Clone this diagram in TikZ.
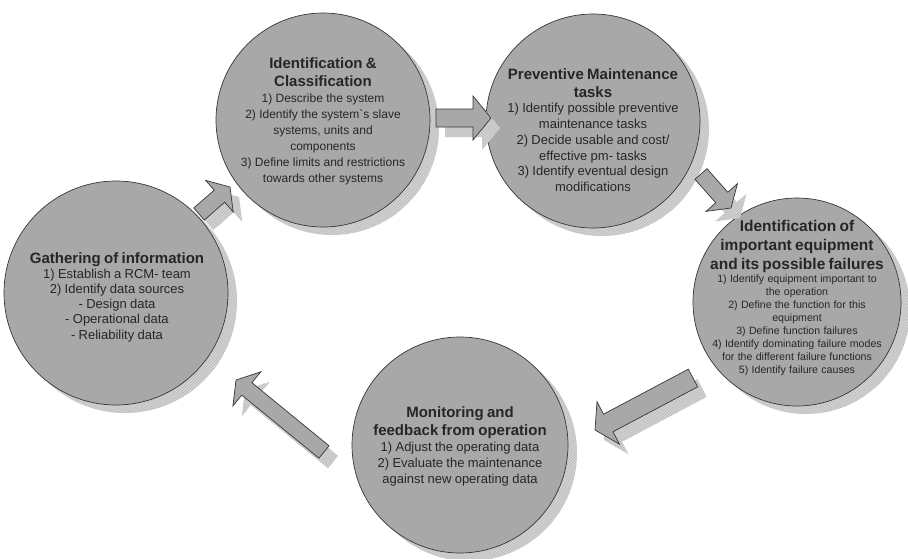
\documentclass[tikz,border=0pt]{standalone}
\usepackage{fontspec}
\setmainfont{Liberation Sans}
\usetikzlibrary{calc,patterns}

\definecolor{discgray}{RGB}{168,168,168}
\definecolor{edgegray}{RGB}{55,55,55}
\definecolor{shadegray}{RGB}{210,210,210}
\definecolor{hatchgray}{RGB}{186,186,186}

\tikzset{
  disc/.style={circle, fill=discgray, draw=edgegray, line width=0.7pt, inner sep=0pt},
  discshade/.style={fill=shadegray, postaction={pattern=north east lines, pattern color=hatchgray}},
  arrowbody/.style={fill=discgray, draw=edgegray, line width=0.7pt, line join=miter},
  stagetext/.style={text width=250pt, align=center, inner sep=0pt, text=black!85},
}

% block arrow: #1 style, #2 tail, #3 tip, #4 shaft half-width, #5 head half-width, #6 head length
\newcommand\rcmarrow[6]{%
  \coordinate (rcm-base) at ($(#3)!#6!(#2)$);
  \path[#1] ($(#2)!#4!90:(#3)$) -- ($(rcm-base)!#4!90:(#3)$)
    -- ($(rcm-base)!#5!90:(#3)$) -- (#3) -- ($(rcm-base)!#5!-90:(#3)$)
    -- ($(rcm-base)!#4!-90:(#3)$) -- ($(#2)!#4!-90:(#3)$) -- cycle;
}
\newcommand\rcmtitle[2][15]{{\fontsize{#1}{18}\selectfont\bfseries #2\par}}
\newcommand\rcmbody[3]{{\fontsize{#1}{#2}\selectfont #3\par}}

\begin{document}
\begin{tikzpicture}[x=1pt,y=-1pt]
\useasboundingbox (0,0) rectangle (908,558);

% stage centres
\coordinate (cgath)  at (116,293);
\coordinate (cident) at (323,120);
\coordinate (cprev)  at (593,121);
\coordinate (cequip) at (797,302);
\coordinate (cmonit) at (460,445);

% drop shadows of the stages
\fill[discshade] ($(cgath)+(9,8)$)  circle[radius=112pt];
\fill[discshade] ($(cident)+(9,8)$) circle[radius=107pt];
\fill[discshade] ($(cprev)+(9,8)$)  circle[radius=107pt];
\fill[discshade] ($(cequip)+(9,8)$) circle[radius=104pt];
\fill[discshade] ($(cmonit)+(9,8)$) circle[radius=108pt];

% stages
\node[disc, minimum size=224pt] (gath)  at (cgath)  {};
\node[disc, minimum size=214pt] (ident) at (cident) {};
\node[disc, minimum size=214pt] (prev)  at (cprev)  {};
\node[disc, minimum size=208pt] (equip) at (cequip) {};
\node[disc, minimum size=216pt] (monit) at (cmonit) {};

% arrow end points
\coordinate (a1t) at (199,214); \coordinate (a1h) at (230,187);
\coordinate (a2t) at (436,118); \coordinate (a2h) at (491,118);
\coordinate (a3t) at (701,174); \coordinate (a3h) at (731,208);
\coordinate (a4t) at (693,378); \coordinate (a4h) at (595,430);
\coordinate (a5t) at (324,452); \coordinate (a5h) at (236,380);
\foreach \a in {a1,a2,a3,a4,a5}{
  \coordinate (\a ts) at ($(\a t)+(9,10)$);
  \coordinate (\a hs) at ($(\a h)+(9,10)$);
}

% arrow shadows
\rcmarrow{discshade}{a1ts}{a1hs}{8pt}{21pt}{14pt}
\rcmarrow{discshade}{a2ts}{a2hs}{9pt}{22pt}{18pt}
\rcmarrow{discshade}{a3ts}{a3hs}{8pt}{21pt}{14pt}
\rcmarrow{discshade}{a4ts}{a4hs}{10pt}{24pt}{15pt}
\rcmarrow{discshade}{a5ts}{a5hs}{8pt}{22pt}{14pt}

% arrows
\rcmarrow{arrowbody}{a1t}{a1h}{8pt}{21pt}{14pt}
\rcmarrow{arrowbody}{a2t}{a2h}{9pt}{22pt}{18pt}
\rcmarrow{arrowbody}{a3t}{a3h}{8pt}{21pt}{14pt}
\rcmarrow{arrowbody}{a4t}{a4h}{10pt}{24pt}{15pt}
\rcmarrow{arrowbody}{a5t}{a5h}{8pt}{22pt}{14pt}

% stage texts
\node[stagetext] (gathtxt) at (117,297) {%
  \rcmtitle{Gathering of information}
  \rcmbody{13}{15.2}{1) Establish a RCM- team\\2) Identify data sources\\- Design data\\- Operational data\\- Reliability data}};

\node[stagetext] (identtxt) at (323,121) {%
  \rcmtitle{Identification \&\\Classification}
  \rcmbody{12}{16}{1) Describe the system\\2) Identify the system\textasciigrave s slave\\systems, units and\\components\\3) Define limits and restrictions\\towards other systems}};

\node[stagetext] (prevtxt) at (593,130) {%
  \rcmtitle{Preventive Maintenance\\tasks}
  \rcmbody{13}{15.7}{1) Identify possible preventive\\maintenance tasks\\2) Decide usable and cost/\\effective pm- tasks\\3) Identify eventual design\\modifications}};

\node[stagetext] (equiptxt) at (797,298) {%
  {\fontsize{15.5}{19}\selectfont\bfseries Identification of\\important equipment\\and its possible failures\par}
  \rcmbody{10.6}{13.1}{1) Identify equipment important to\\the operation\\2) Define the function for this\\equipment\\3) Define function failures\\4) Identify dominating failure modes\\for the different failure functions\\5) Identify failure causes}};

\node[stagetext] (monittxt) at (460,446) {%
  \rcmtitle{Monitoring and\\feedback from operation}
  \rcmbody{13}{16}{1) Adjust the operating data\\2) Evaluate the maintenance\\against new operating data}};
\end{tikzpicture}
\end{document}
